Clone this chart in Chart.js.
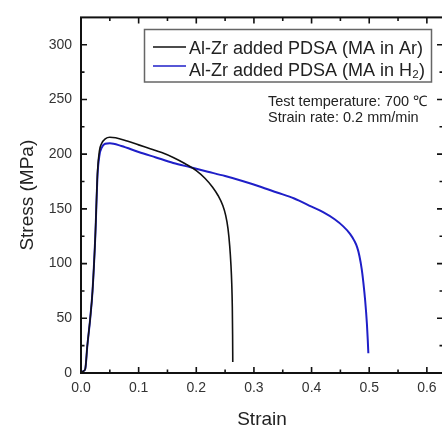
<!DOCTYPE html>
<html>
<head>
<meta charset="utf-8">
<script src="https://cdn.jsdelivr.net/npm/chart.js@4.4.1/dist/chart.umd.min.js"></script>
<style>
    html, body { margin: 0; padding: 0; background: #fff; overflow: hidden; }
    #wrap { position: relative; width: 452px; height: 426px; }
</style>
</head>
<body>
<div id="wrap"><canvas id="stressChart"></canvas></div>
<script>
// tensile curves (strain, stress in MPa)
const strainAr = [0, 0.005, 0.0075, 0.011, 0.016, 0.02, 0.0248, 0.0288, 0.032, 0.036, 0.042, 0.05, 0.06, 0.08, 0.1, 0.12, 0.14, 0.16, 0.18, 0.2, 0.215, 0.228, 0.238, 0.246, 0.251, 0.255, 0.258, 0.26, 0.2615, 0.2625, 0.263, 0.2633];
const stressAr = [0, 2, 4, 25, 50, 75, 125, 185, 203, 210, 214, 215.5, 215, 212, 208.5, 205, 201.5, 197, 191.5, 185, 178, 170, 162, 153, 144, 132, 116, 100, 82, 60, 35, 10];

const strainH2 = [0, 0.005, 0.0075, 0.011, 0.016, 0.02, 0.0248, 0.0288, 0.032, 0.036, 0.042, 0.05, 0.07, 0.1, 0.13, 0.16, 0.19, 0.22, 0.25, 0.28, 0.31, 0.34, 0.37, 0.4, 0.42, 0.44, 0.455, 0.467, 0.474, 0.479, 0.483, 0.487, 0.49, 0.493, 0.496, 0.4975, 0.4985];
const stressH2 = [0, 2, 4, 25, 50, 75, 125, 182, 199, 206, 209.5, 210, 207.5, 202, 197, 192, 188, 184, 180, 175.5, 170.5, 165, 159.5, 152, 147, 140.5, 134, 127, 121, 115, 107, 95, 82, 66, 45, 30, 18];

const seriesLabels = ["Al-Zr added PDSA (MA in Ar)", "Al-Zr added PDSA (MA in H\u2082)"];
const seriesColors = ["#111111", "#1f1fc8"];
const noteLines = ["Test temperature: 700 \u2103", "Strain rate: 0.2 mm/min"];
const axisTitles = ["Strain", "Stress (MPa)"];

const FONT = "'Liberation Sans', Arial, sans-serif";

function toPoints(xs, ys) {
    return xs.map((x, i) => ({ x: x, y: ys[i] }));
}

// frame with inward major/minor ticks on all four sides
const framePlugin = {
    id: "frame",
    afterDatasetsDraw(chart) {
        const ctx = chart.ctx;
        const a = chart.chartArea;
        const xs = chart.scales.x;
        const ys = chart.scales.y;
        ctx.save();
        ctx.strokeStyle = "#111";
        ctx.lineWidth = 2;
        ctx.strokeRect(a.left, a.top, a.right - a.left, a.bottom - a.top);
        ctx.lineWidth = 1.6;
        ctx.beginPath();
        for (let i = 1; i * 0.05 < xs.max; i++) {
            const px = xs.getPixelForValue(i * 0.05);
            const len = i % 2 === 0 ? 6 : 3.5;
            ctx.moveTo(px, a.bottom); ctx.lineTo(px, a.bottom - len);
            ctx.moveTo(px, a.top); ctx.lineTo(px, a.top + len);
        }
        for (let i = 1; i * 25 < ys.max; i++) {
            const py = ys.getPixelForValue(i * 25);
            const len = i % 2 === 0 ? 6 : 3.5;
            ctx.moveTo(a.left, py); ctx.lineTo(a.left + len, py);
            ctx.moveTo(a.right, py); ctx.lineTo(a.right - len, py);
        }
        ctx.stroke();
        ctx.restore();
    }
};

// axis titles, legend box and test conditions
const notesPlugin = {
    id: "notes",
    afterDraw(chart) {
        const ctx = chart.ctx;
        const a = chart.chartArea;
        ctx.save();
        ctx.fillStyle = "#222";
        ctx.textBaseline = "alphabetic";
        ctx.textAlign = "center";
        ctx.font = "19px " + FONT;
        ctx.fillText(axisTitles[0], (a.left + a.right) / 2, 424.5);
        ctx.save();
        ctx.translate(32.5, (a.top + a.bottom) / 2);
        ctx.rotate(-Math.PI / 2);
        ctx.fillText(axisTitles[1], 0, 0);
        ctx.restore();

        ctx.textAlign = "left";
        ctx.strokeStyle = "#666";
        ctx.lineWidth = 1.5;
        ctx.strokeRect(144.5, 29.5, 287, 52.5);
        ctx.font = "18px " + FONT;
        const rows = [54, 75.5];
        const lineRows = [47, 66];
        seriesLabels.forEach((lab, i) => {
            ctx.strokeStyle = seriesColors[i];
            ctx.lineWidth = 1.3;
            ctx.beginPath();
            ctx.moveTo(153, lineRows[i]);
            ctx.lineTo(186, lineRows[i]);
            ctx.stroke();
            ctx.fillText(lab, 189, rows[i]);
        });
        ctx.font = "14.5px " + FONT;
        ctx.fillText(noteLines[0], 268, 106);
        ctx.fillText(noteLines[1], 268, 121.5);
        ctx.restore();
    }
};

const ctx = document.getElementById("stressChart").getContext("2d");
new Chart(ctx, {
    type: "line",
    data: {
        datasets: [{
            label: seriesLabels[0],
            data: toPoints(strainAr, stressAr),
            borderColor: seriesColors[0],
            borderWidth: 1.6,
            pointRadius: 0,
            cubicInterpolationMode: "monotone",
            fill: false
        }, {
            label: seriesLabels[1],
            data: toPoints(strainH2, stressH2),
            borderColor: seriesColors[1],
            borderWidth: 2,
            pointRadius: 0,
            cubicInterpolationMode: "monotone",
            fill: false
        }]
    },
    options: {
        responsive: true,
        maintainAspectRatio: false,
        animation: false,
        layout: { padding: { top: 10, right: 9, left: 0, bottom: 0 } },
        plugins: {
            legend: { display: false },
            tooltip: { enabled: false }
        },
        scales: {
            x: {
                type: "linear",
                min: 0,
                max: 0.628,
                grid: { display: false, drawTicks: false },
                border: { display: false },
                afterFit: s => { s.height = 53; },
                ticks: {
                    stepSize: 0.1,
                    includeBounds: false,
                    padding: 7,
                    maxRotation: 0,
                    color: "#333",
                    font: { family: FONT, size: 14 },
                    callback: v => v.toFixed(1)
                }
            },
            y: {
                min: 0,
                max: 325,
                grid: { display: false, drawTicks: false },
                border: { display: false },
                afterFit: s => { s.width = 81; },
                ticks: {
                    stepSize: 50,
                    includeBounds: false,
                    padding: 9,
                    color: "#333",
                    font: { family: FONT, size: 14 }
                }
            }
        }
    },
    plugins: [framePlugin, notesPlugin]
});
</script>
</body>
</html>
